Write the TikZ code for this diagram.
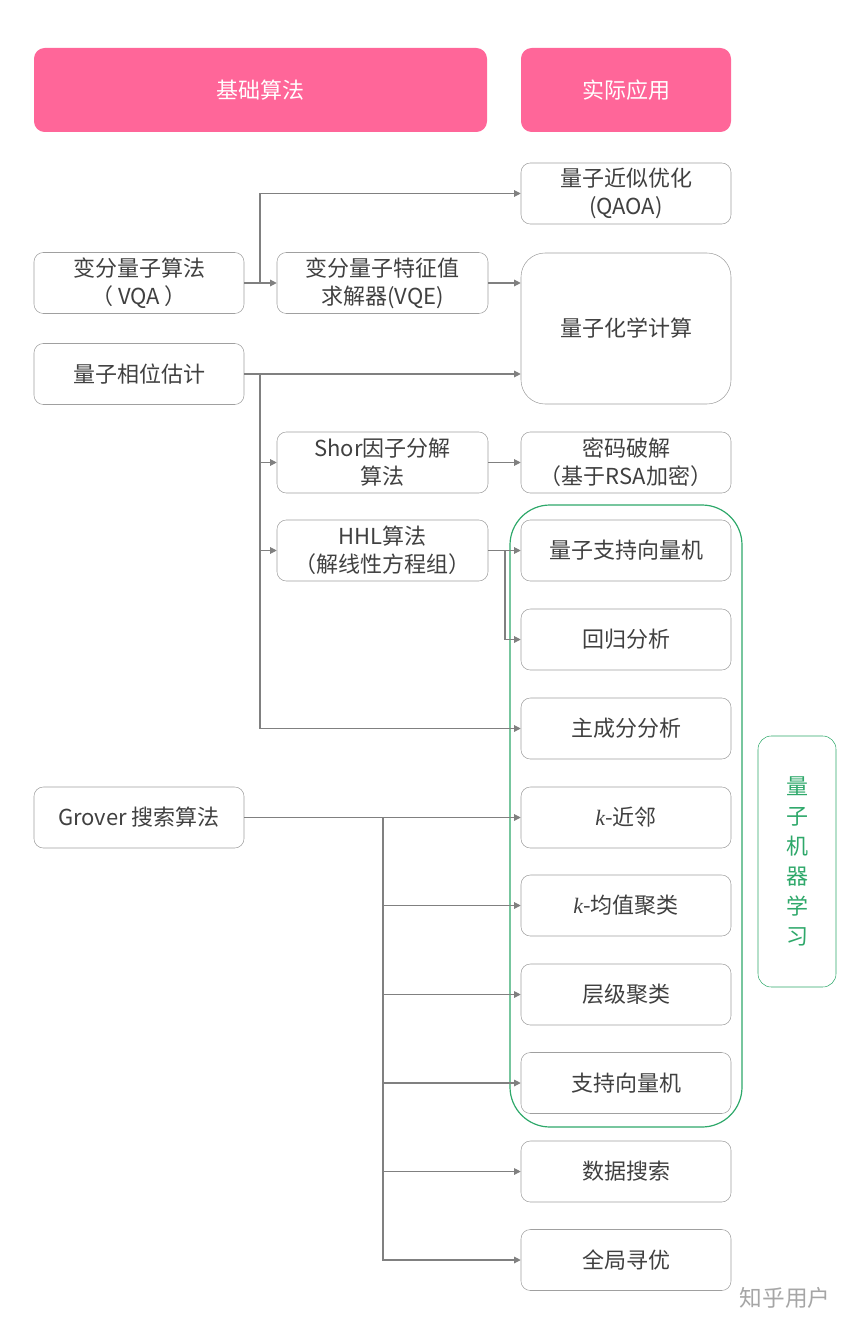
\documentclass[tikz,border=0pt]{standalone}
\usepackage{fontspec}
\setmainfont{Noto Sans CJK SC}
\newfontfamily\ital{Liberation Serif}
\usetikzlibrary{arrows.meta}
\definecolor{pinkc}{HTML}{FF6699}
\definecolor{boxc}{HTML}{A0A0A0}
\definecolor{linec}{HTML}{808080}
\definecolor{txtc}{HTML}{404040}
\definecolor{grn}{HTML}{2EA86A}
\begin{document}
\begin{tikzpicture}[x=0.75pt,y=-0.75pt,
  bx/.style={draw=boxc,rounded corners=7pt,text=txtc,align=center,font=\fontsize{16.5}{21}\selectfont,inner sep=0pt},
  hd/.style={fill=pinkc,rounded corners=8pt,text=white,font=\fontsize{16.5}{20}\selectfont,inner sep=0pt},
  ar/.style={draw=linec,line width=0.8pt,-{Triangle[length=5pt,width=5pt]}},
  ln/.style={draw=linec,line width=0.8pt}]
\path[use as bounding box] (0,0) rectangle (859,1326);
\newcommand\bx[6]{\node[bx,minimum width=#3*0.75pt,minimum height=#4*0.75pt] (#5) at (#1,#2) {#6};}
% headers
\node[hd,minimum width=453*0.75pt,minimum height=84*0.75pt] (h1) at (260.5,90) {基础算法};
\node[hd,minimum width=210*0.75pt,minimum height=84*0.75pt] (h2) at (626,90) {实际应用};
% right column
\bx{626}{193.5}{210}{61}{qaoa}{量子近似优化\\(QAOA)}
\node[bx,rounded corners=18pt,minimum width=210*0.75pt,minimum height=151*0.75pt] (chem) at (626,328.5) {量子化学计算};
\bx{626}{462.5}{210}{61}{rsa}{密码破解\\（基于RSA加密）}
\bx{626}{550.5}{210}{61}{qsvm}{量子支持向量机}
\bx{626}{639.5}{210}{61}{reg}{回归分析}
\bx{626}{728.5}{210}{61}{pca}{主成分分析}
\bx{626}{817.5}{210}{61}{knn}{{\ital\itshape k}-近邻}
\bx{626}{905.5}{210}{61}{kmeans}{{\ital\itshape k}-均值聚类}
\bx{626}{994.5}{210}{61}{hier}{层级聚类}
\bx{626}{1083}{210}{61}{svm}{支持向量机}
\bx{626}{1171.5}{210}{61}{search}{数据搜索}
\bx{626}{1260}{210}{61}{opt}{全局寻优}
% left column
\bx{139}{283}{210}{61}{vqa}{变分量子算法\\（ VQA ）}
\bx{139}{374}{210}{61}{qpe}{量子相位估计}
\bx{139}{817.5}{210}{61}{grover}{Grover 搜索算法}
% middle
\bx{382.5}{283}{211}{61}{vqe}{变分量子特征值\\求解器(VQE)}
\bx{382.5}{462.5}{211}{61}{shor}{Shor因子分解\\算法}
\bx{382.5}{550.5}{211}{61}{hhl}{HHL算法\\（解线性方程组）}
% green group
\node[draw=grn,line width=0.9pt,rounded corners=30pt,minimum width=232*0.75pt,minimum height=622*0.75pt] (grp) at (626,816) {};
\node[draw=grn,rounded corners=10pt,minimum width=78*0.75pt,minimum height=251*0.75pt,text=grn,font=\fontsize{16.5}{22.5}\selectfont,align=center,inner sep=0pt] (qml) at (797,861.5) {量\\子\\机\\器\\学\\习};
% connectors
\coordinate (j1) at (260,283);
\draw[ln] (vqa.east) -- (j1);
\draw[ar] (j1) |- (qaoa.west);
\draw[ar] (j1) -- (vqe.west);
\draw[ar] (vqe.east) -- (vqe.east -| chem.west);
\draw[ar] (qpe.east) -- (qpe.east -| chem.west);
\coordinate (j2) at (260,374);
\draw[ar] (j2) |- (shor.west);
\draw[ar] (j2) |- (hhl.west);
\draw[ar] (j2) |- (pca.west);
\draw[ar] (shor.east) -- (rsa.west);
\draw[ar] (hhl.east) -- (qsvm.west);
\coordinate (j3) at (505,550.5);
\draw[ar] (j3) |- (reg.west);
\draw[ar] (grover.east) -- (knn.west);
\coordinate (j4) at (383,817.5);
\draw[ar] (j4) |- (kmeans.west);
\draw[ar] (j4) |- (hier.west);
\draw[ar] (j4) |- (svm.west);
\draw[ar] (j4) |- (search.west);
\draw[ar] (j4) |- (opt.west);
\node[text=gray!70,font=\fontsize{17}{20}\selectfont] (wm) at (785,1298) {知乎用户};
\end{tikzpicture}
\end{document}
